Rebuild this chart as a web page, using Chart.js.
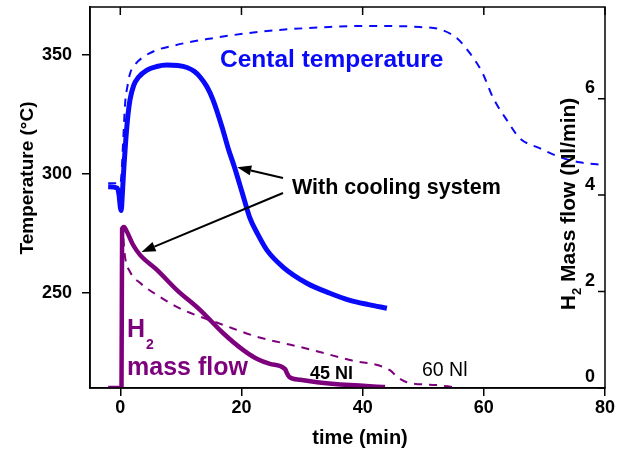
<!DOCTYPE html>
<html>
<head>
<meta charset="utf-8">
<script src="https://cdn.jsdelivr.net/npm/chart.js@4.4.1/dist/chart.umd.min.js"></script>
<style>
  html, body { margin: 0; padding: 0; background: #fff; }
  #wrap { width: 623px; height: 452px; }
</style>
</head>
<body>
<div id="wrap"><canvas id="myChart"></canvas></div>
<script>
const FONT = "'Liberation Sans', Arial, Helvetica, sans-serif";
const BLUE = 'rgb(10, 10, 250)';
const PURPLE = 'rgb(125, 0, 125)';

// central temperature, with cooling system (min, °C)
const timeCool = [-2, -0.5, -0.2, 0, 0.15, 0.35, 0.6, 0.9, 1.2, 1.6, 2.2, 3.0, 4.4, 6.0, 7.7, 9.5, 11, 12.2, 13.2, 14.3, 15.3, 16.8, 17.8, 18.9, 20.1, 21.4, 22.6, 24.2, 26.9, 30.8, 34.6, 37.9, 41, 44];
const tempCool = [294.5, 294, 291, 286, 284.5, 292, 303, 314, 323, 331, 337, 340.5, 343.5, 345, 345.6, 345.4, 344.6, 343, 340.5, 336.5, 331, 319.5, 310.7, 302.3, 292.2, 281.3, 275, 267.9, 260.7, 254, 249.8, 246.8, 245, 243.5];

// central temperature, no cooling (dashed)
const timeNoCool = [-2, -0.5, 0, 0.2, 0.5, 0.8, 1.2, 1.6, 2.5, 3.8, 6.1, 8.5, 11.5, 15, 18.6, 23, 28, 33, 39, 44, 49.4, 52.7, 55.5, 57.7, 59.8, 61.5, 63.8, 65.9, 69.2, 72.5, 75.8, 80];
const tempNoCool = [296, 296, 295.5, 300, 315, 329.6, 337, 342, 346, 349, 352, 353.6, 355.3, 356.8, 358.2, 359.6, 360.7, 361.4, 362, 362, 361.6, 360.7, 357, 350.6, 342.2, 332, 322.5, 315, 310.7, 307, 304.8, 303.6];

// H2 mass flow (Nl/min), 45 Nl charge
const time45 = [-2, 0.2, 0.3, 0.6, 1.1, 2.1, 3.25, 6.05, 9.35, 13.15, 16.95, 20.25, 22.6, 24.7, 27.2, 27.5, 27.9, 29.7, 32.5, 37.9, 43.7];
const flow45 = [0, 0, 3.3, 3.34, 3.24, 2.97, 2.76, 2.45, 2.03, 1.62, 1.14, 0.79, 0.6, 0.5, 0.39, 0.31, 0.23, 0.17, 0.12, 0.06, 0.02];

// H2 mass flow (Nl/min), 60 Nl charge
const time60 = [-2, 0.2, 0.3, 0.8, 1.6, 3.25, 6.55, 9.35, 11.5, 16.95, 22.6, 26.9, 29.7, 37.9, 44.5, 45.7, 47.3, 52.3, 54.9];
const flow60 = [0, 0, 3.28, 2.7, 2.41, 2.18, 1.89, 1.68, 1.56, 1.31, 1.06, 0.93, 0.85, 0.58, 0.37, 0.23, 0.12, 0.06, 0.02];

const ticksTime = [0, 20, 40, 60, 80];
const ticksTemp = [250, 300, 350];
const ticksFlow = [0, 2, 4, 6];

function pairs(xs, ys) {
    return xs.map((x, i) => ({ x: x, y: ys[i] }));
}

// keep the plot box fixed: no extra room for half labels
function fixSize(s, w, h) {
    if (w !== null) s.width = w;
    if (h !== null) s.height = h;
    s.paddingTop = 0;
    s.paddingBottom = 0;
    s.paddingLeft = 0;
    s.paddingRight = 0;
}

const tickFont = { family: FONT, size: 18, weight: 'bold' };

// frame, inner ticks, titles and labels drawn on top of the chart
const decorations = {
    id: 'decorations',
    afterDraw(chart) {
        const ctx = chart.ctx;
        const a = chart.chartArea;
        const sx = chart.scales.x;
        const sT = chart.scales.yTemp;
        const sF = chart.scales.yFlow;
        ctx.save();

        ctx.strokeStyle = '#000';
        ctx.lineWidth = 1.5;
        ctx.strokeRect(a.left, a.top, a.right - a.left, a.bottom - a.top);

        ctx.beginPath();
        ticksTime.forEach(v => {
            const px = sx.getPixelForValue(v);
            ctx.moveTo(px, a.top);
            ctx.lineTo(px, a.top + 8);
        });
        ticksFlow.forEach(v => {
            const py = sF.getPixelForValue(v);
            ctx.moveTo(a.right - 7, py);
            ctx.lineTo(a.right, py);
        });
        ctx.stroke();

        ctx.fillStyle = '#000';
        ctx.textBaseline = 'alphabetic';

        // x title
        ctx.font = 'bold 20px ' + FONT;
        ctx.textAlign = 'center';
        ctx.fillText('time (min)', 360, 444);

        // left title
        ctx.save();
        ctx.translate(33, 178);
        ctx.rotate(-Math.PI / 2);
        ctx.font = 'bold 19px ' + FONT;
        ctx.fillText('Temperature (°C)', 0, 0);
        ctx.restore();

        // right title with subscript
        ctx.save();
        ctx.translate(575, 204);
        ctx.rotate(-Math.PI / 2);
        ctx.textAlign = 'left';
        const big = 'bold 21px ' + FONT;
        const small = 'bold 13px ' + FONT;
        ctx.font = big;
        const wH = ctx.measureText('H').width;
        const wRest = ctx.measureText(' Mass flow (Nl/min)').width;
        ctx.font = small;
        const w2 = ctx.measureText('2').width;
        let x0 = -(wH + w2 + wRest) / 2;
        ctx.font = big;
        ctx.fillText('H', x0, 0);
        ctx.font = small;
        ctx.fillText('2', x0 + wH, 6);
        ctx.font = big;
        ctx.fillText(' Mass flow (Nl/min)', x0 + wH + w2, 0);
        ctx.restore();

        // series labels
        ctx.textAlign = 'left';
        ctx.fillStyle = BLUE;
        ctx.font = 'bold 24.5px ' + FONT;
        ctx.fillText('Cental temperature', 220, 67);

        ctx.fillStyle = '#000';
        ctx.font = 'bold 21.5px ' + FONT;
        ctx.fillText('With cooling system', 292, 194);

        ctx.fillStyle = PURPLE;
        ctx.font = 'bold 25px ' + FONT;
        ctx.fillText('H', 127, 337);
        ctx.font = 'bold 14px ' + FONT;
        ctx.fillText('2', 146, 349);
        ctx.font = 'bold 25px ' + FONT;
        ctx.fillText('mass flow', 127, 375);

        ctx.fillStyle = '#000';
        ctx.font = 'bold 18px ' + FONT;
        ctx.fillText('45 Nl', 310, 379);
        ctx.font = '19.5px ' + FONT;
        ctx.fillText('60 Nl', 422, 376);

        // arrows from the label to both curves
        arrow(ctx, 283, 178, sx.getPixelForValue(19.3), sT.getPixelForValue(302.7));
        arrow(ctx, 283, 193, sx.getPixelForValue(3.5), sF.getPixelForValue(2.82));

        ctx.restore();
    }
};

function arrow(ctx, x1, y1, x2, y2) {
    const ang = Math.atan2(y2 - y1, x2 - x1);
    const len = 14, half = 5;
    const bx = x2 - len * Math.cos(ang);
    const by = y2 - len * Math.sin(ang);
    ctx.strokeStyle = '#000';
    ctx.fillStyle = '#000';
    ctx.lineWidth = 2;
    ctx.beginPath();
    ctx.moveTo(x1, y1);
    ctx.lineTo(bx, by);
    ctx.stroke();
    ctx.beginPath();
    ctx.moveTo(x2, y2);
    ctx.lineTo(bx + half * Math.sin(ang), by - half * Math.cos(ang));
    ctx.lineTo(bx - half * Math.sin(ang), by + half * Math.cos(ang));
    ctx.closePath();
    ctx.fill();
}

const ctxChart = document.getElementById('myChart').getContext('2d');

const chart = new Chart(ctxChart, {
    type: 'line',
    data: {
        datasets: [{
            label: '60 Nl',
            data: pairs(time60, flow60),
            yAxisID: 'yFlow',
            borderColor: PURPLE,
            borderWidth: 2,
            borderDash: [8, 7],
            pointRadius: 0,
            cubicInterpolationMode: 'monotone'
        }, {
            label: '45 Nl',
            data: pairs(time45, flow45),
            yAxisID: 'yFlow',
            borderColor: PURPLE,
            borderWidth: 4.5,
            pointRadius: 0,
            cubicInterpolationMode: 'monotone'
        }, {
            label: 'No cooling',
            data: pairs(timeNoCool, tempNoCool),
            yAxisID: 'yTemp',
            borderColor: BLUE,
            borderWidth: 2,
            borderDash: [8, 7],
            pointRadius: 0,
            cubicInterpolationMode: 'monotone'
        }, {
            label: 'With cooling system',
            data: pairs(timeCool, tempCool),
            yAxisID: 'yTemp',
            borderColor: BLUE,
            borderWidth: 5,
            pointRadius: 0,
            cubicInterpolationMode: 'monotone'
        }]
    },
    options: {
        responsive: true,
        maintainAspectRatio: false,
        animation: false,
        layout: { padding: { top: 7, right: 18, left: 0, bottom: 0 } },
        plugins: {
            legend: { display: false },
            tooltip: { enabled: false }
        },
        scales: {
            x: {
                type: 'linear',
                min: -5,
                max: 80,
                afterBuildTicks: s => { s.ticks = ticksTime.map(v => ({ value: v })); },
                afterFit: s => fixSize(s, null, 64),
                grid: { drawOnChartArea: false, tickLength: 8, color: '#000', lineWidth: 1.5 },
                border: { color: '#000', width: 1.5 },
                ticks: { font: tickFont, color: '#000', padding: 1, maxRotation: 0 }
            },
            yTemp: {
                type: 'linear',
                position: 'left',
                min: 210,
                max: 370,
                afterBuildTicks: s => { s.ticks = ticksTemp.map(v => ({ value: v })); },
                afterFit: s => fixSize(s, 90, null),
                grid: { drawOnChartArea: false, tickLength: 8, color: '#000', lineWidth: 1.5 },
                border: { color: '#000', width: 1.5 },
                ticks: { font: tickFont, color: '#000', padding: 10 }
            },
            yFlow: {
                type: 'linear',
                position: 'right',
                min: 0,
                max: 7.9,
                afterBuildTicks: s => { s.ticks = ticksFlow.map(v => ({ value: v })); },
                afterFit: s => fixSize(s, 0, null),
                grid: { display: false },
                border: { display: false },
                ticks: { font: tickFont, color: '#000', mirror: true, padding: -10, labelOffset: -10.5 }
            }
        }
    },
    plugins: [decorations]
});
</script>
</body>
</html>
